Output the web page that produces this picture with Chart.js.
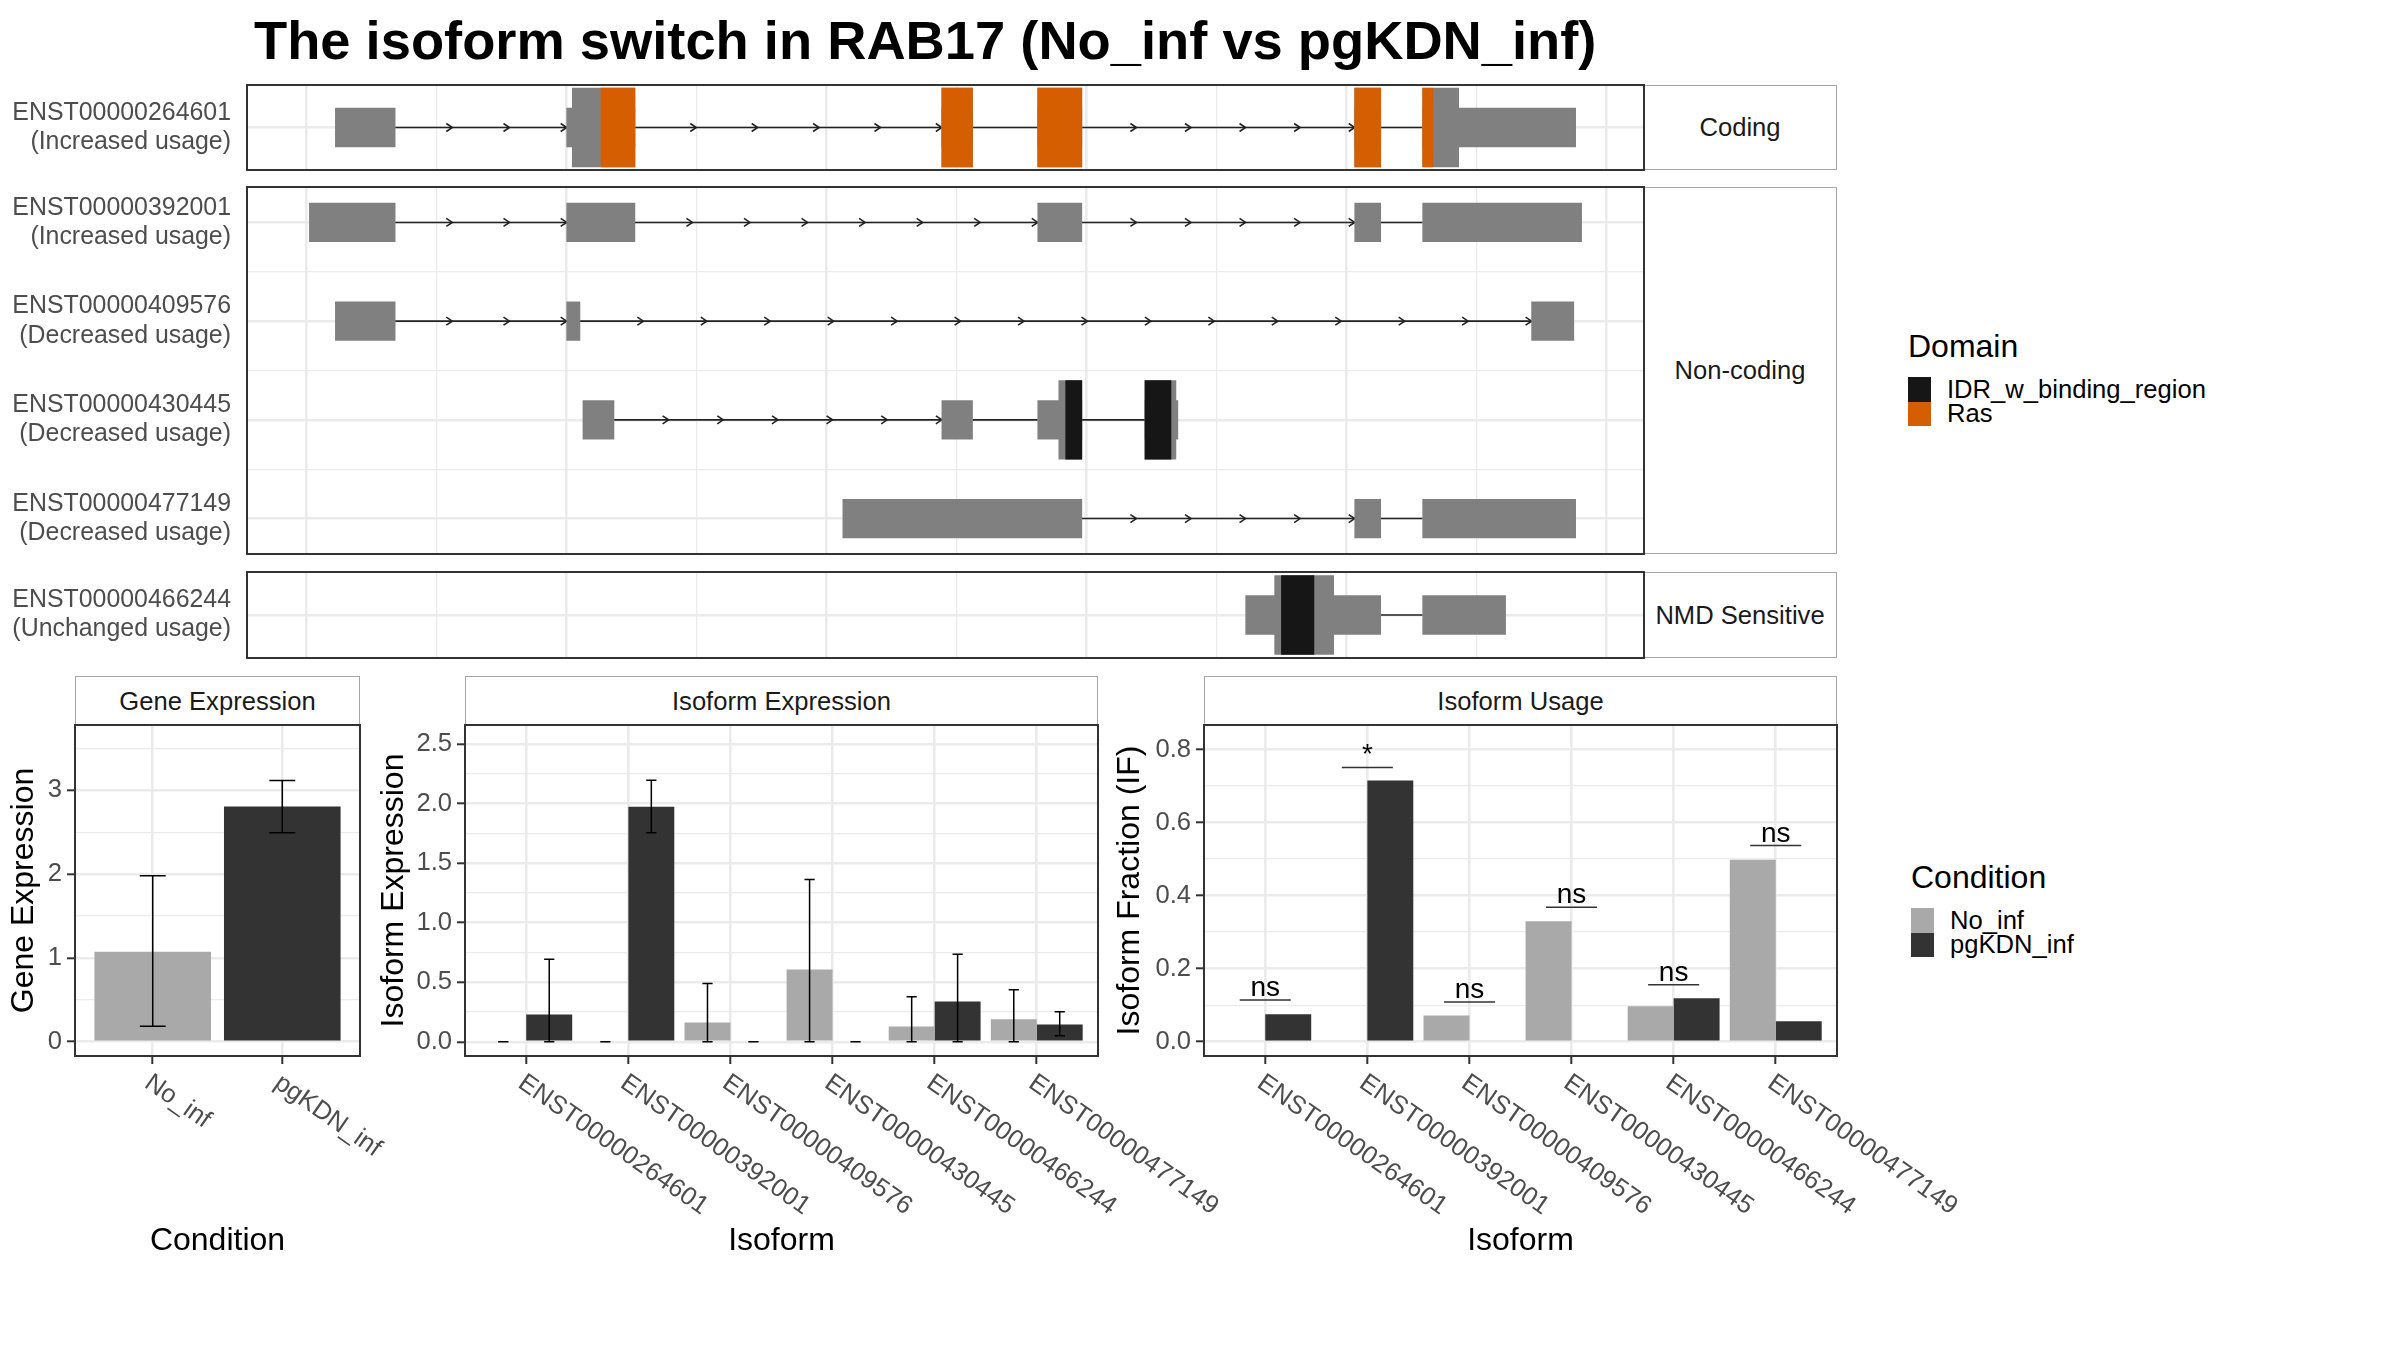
<!DOCTYPE html>
<html>
<head>
<meta charset="utf-8">
<title>The isoform switch in RAB17</title>
<script src="https://cdn.jsdelivr.net/npm/chart.js@4.4.1/dist/chart.umd.min.js"></script>
<style>
  html, body { margin: 0; padding: 0; background: #fff; }
  #page { position: relative; width: 2400px; height: 1350px; overflow: hidden; background: #fff;
          font-family: 'Liberation Sans', Arial, Helvetica, sans-serif; }
  #page canvas { position: absolute; }
  .title { position: absolute; left: 254px; top: 14px; font-size: 54.3px; font-weight: bold; line-height: 54px;
           color: #000; white-space: nowrap; }
  .strip { position: absolute; box-sizing: border-box; border: 1.5px solid #a6a6a6; background: #fff;
           display: flex; align-items: center; justify-content: center; font-size: 25.6px; color: #1a1a1a; }
  .legend { position: absolute; }
  .legend .head { font-size: 32px; line-height: 38px; color: #000; margin-bottom: 12px; }
  .key { display: flex; align-items: center; height: 24.5px; font-size: 25.6px; color: #000; white-space: nowrap; }
  .key span { display: inline-block; width: 23px; height: 24.5px; margin-right: 16px; }
</style>
</head>
<body>
<div id="page">
  <div class="title">The isoform switch in RAB17 (No_inf vs pgKDN_inf)</div>

  <div class="strip" style="left:1644px;top:85px;width:193px;height:85px;border-left:none">Coding</div>
  <div class="strip" style="left:1644px;top:187px;width:193px;height:367px;border-left:none">Non-coding</div>
  <div class="strip" style="left:1644px;top:572px;width:193px;height:86px;border-left:none">NMD Sensitive</div>

  <div class="strip" style="left:75px;top:676px;width:285px;height:50px;border-bottom:none">Gene Expression</div>
  <div class="strip" style="left:465px;top:676px;width:633px;height:50px;border-bottom:none">Isoform Expression</div>
  <div class="strip" style="left:1204px;top:676px;width:633px;height:50px;border-bottom:none">Isoform Usage</div>

  <div class="legend" style="left:1908px;top:327px">
    <div class="head">Domain</div>
    <div class="key"><span style="background:#161616"></span>IDR_w_binding_region</div>
    <div class="key"><span style="background:#d55e00"></span>Ras</div>
  </div>
  <div class="legend" style="left:1911px;top:858px">
    <div class="head">Condition</div>
    <div class="key"><span style="background:#a9a9a9"></span>No_inf</div>
    <div class="key"><span style="background:#333333"></span>pgKDN_inf</div>
  </div>
</div>

<script>
// ---- data ----
const conditions = ['No_inf', 'pgKDN_inf'];
const isoforms = ['ENST00000264601', 'ENST00000392001', 'ENST00000409576',
                  'ENST00000430445', 'ENST00000466244', 'ENST00000477149'];

const geneExpr = [1.075, 2.807];
const geneExprLow = [0.184, 2.495];
const geneExprHigh = [1.98, 3.118];

const isoExprNoInf = [0, 0, 0.162, 0.607, 0.129, 0.189];
const isoExprNoInfLow = [0, 0, 0, 0, 0, 0];
const isoExprNoInfHigh = [0, 0, 0.49, 1.363, 0.378, 0.438];
const isoExprPgKDN = [0.229, 1.973, 0, 0, 0.338, 0.146];
const isoExprPgKDNLow = [0, 1.754, 0, 0, 0, 0.05];
const isoExprPgKDNHigh = [0.693, 2.195, 0, 0, 0.736, 0.252];

const usageNoInf = [0, 0, 0.072, 0.33, 0.097, 0.498];
const usagePgKDN = [0.075, 0.715, 0, 0, 0.119, 0.056];
const usageSig = ['ns', '*', 'ns', 'ns', 'ns', 'ns'];
const usageSigY = [0.114, 0.751, 0.109, 0.368, 0.156, 0.537];

// tick labels
const geneTicks = [0, 1, 2, 3];
const geneTickLabels = ['0', '1', '2', '3'];
const geneMinorTicks = [0.5, 1.5, 2.5, 3.5];
const isoExprTicks = [0, 0.5, 1, 1.5, 2, 2.5];
const isoExprTickLabels = ['0.0', '0.5', '1.0', '1.5', '2.0', '2.5'];
const isoExprMinorTicks = [0.25, 0.75, 1.25, 1.75, 2.25];
const usageTicks = [0, 0.2, 0.4, 0.6, 0.8];
const usageTickLabels = ['0.0', '0.2', '0.4', '0.6', '0.8'];
const usageMinorTicks = [0.1, 0.3, 0.5, 0.7];

// transcript structures (genomic axis in plot units, gridlines every 100)
const txIds = ['ENST00000264601', 'ENST00000392001', 'ENST00000409576',
               'ENST00000430445', 'ENST00000477149', 'ENST00000466244'];
const txChange = ['Increased usage', 'Increased usage', 'Decreased usage',
                  'Decreased usage', 'Decreased usage', 'Unchanged usage'];
const txClass = ['Coding', 'Non-coding', 'Non-coding', 'Non-coding', 'Non-coding', 'NMD Sensitive'];
const txExons = [
  [[22, 68], [200, 252.5], [488.7, 512.3], [562.5, 596.4], [806.4, 826.4], [858.7, 976.4]],
  [[2, 68], [200, 252.5], [562.5, 596.4], [806.4, 826.4], [858.7, 981]],
  [[22, 68], [200, 210.2], [942.5, 975]],
  [[212.5, 236.4], [488.7, 512.3], [562.5, 596.4], [645, 670.3]],
  [[412.5, 596.4], [806.4, 826.4], [858.7, 976.4]],
  [[722.5, 826.4], [858.7, 922.5]]
];
const txCds = [
  [[204.3, 252.5], [488.7, 512.3], [562.5, 596.4], [806.4, 826.4], [858.7, 886.4]],
  [], [],
  [[578.7, 596.4], [645, 668.8]],
  [],
  [[744.8, 790.2]]
];
const txRas = [
  [[226.4, 252.5], [488.7, 512.3], [562.5, 596.4], [806.4, 826.4], [858.7, 866.7]],
  [], [], [], [], []
];
const txIdr = [
  [], [], [],
  [[584, 596.4], [645, 665]],
  [],
  [[750, 775]]
];
const txGrid = [0, 100, 200, 300, 400, 500, 600, 700, 800, 900, 1000];

// ---- styles ----
const GREY = '#808080', RAS = '#d55e00', IDR = '#161616';
const NOINF = '#a9a9a9', PGKDN = '#333333';
const TICK_GREY = '#4d4d4d', GRID = '#ebebeb';
const FONT = "'Liberation Sans', Arial, Helvetica, sans-serif";

Chart.defaults.font.family = FONT;
Chart.defaults.animation = false;
Chart.defaults.plugins.legend.display = false;
Chart.defaults.plugins.tooltip.enabled = false;

const page = document.getElementById('page');

function addCanvas(left, top, width, height) {
  const c = document.createElement('canvas');
  c.width = Math.round(width);
  c.height = Math.round(height);
  c.style.left = Math.round(left) + 'px';
  c.style.top = Math.round(top) + 'px';
  page.appendChild(c);
  return c;
}

// box round the plotting area (ggplot panel border)
const panelBox = {
  id: 'panelBox',
  afterDraw(chart) {
    const { ctx, chartArea: a } = chart;
    ctx.save();
    ctx.strokeStyle = '#333333';
    ctx.lineWidth = 2;
    ctx.strokeRect(a.left, a.top, a.right - a.left, a.bottom - a.top);
    ctx.restore();
  }
};

// intron lines with direction arrows
const intronPlugin = {
  id: 'introns',
  beforeDatasetsDraw(chart, args, opts) {
    const { ctx, scales: { x, y } } = chart;
    ctx.save();
    ctx.strokeStyle = '#222222';
    ctx.lineWidth = 1.6;
    opts.rows.forEach((exons, r) => {
      const py = y.getPixelForValue(r);
      for (let k = 0; k < exons.length - 1; k++) {
        const a = exons[k][1], b = exons[k + 1][0];
        ctx.beginPath();
        ctx.moveTo(x.getPixelForValue(a), py);
        ctx.lineTo(x.getPixelForValue(b), py);
        ctx.stroke();
        const len = b - a;
        const n = len < 60 ? 0 : Math.ceil(len / 50);
        for (let j = 1; j <= n; j++) {
          const px = x.getPixelForValue(a + len * j / n);
          ctx.beginPath();
          ctx.moveTo(px - 6, py - 4);
          ctx.lineTo(px, py);
          ctx.lineTo(px - 6, py + 4);
          ctx.stroke();
        }
      }
    });
    ctx.restore();
  }
};

const errorBarPlugin = {
  id: 'errorBars',
  afterDatasetsDraw(chart, args, opts) {
    if (!opts.low) return;
    const { ctx, scales: { x, y } } = chart;
    const cap = x.getPixelForValue(1 + opts.cap) - x.getPixelForValue(1);
    ctx.save();
    ctx.strokeStyle = '#000';
    ctx.lineWidth = 1.5;
    opts.low.forEach((lows, d) => {
      const meta = chart.getDatasetMeta(d);
      lows.forEach((lo, i) => {
        const px = meta.data[i].x;
        const y1 = y.getPixelForValue(lo), y2 = y.getPixelForValue(opts.high[d][i]);
        ctx.beginPath();
        ctx.moveTo(px, y1); ctx.lineTo(px, y2);
        ctx.moveTo(px - cap, y1); ctx.lineTo(px + cap, y1);
        ctx.moveTo(px - cap, y2); ctx.lineTo(px + cap, y2);
        ctx.stroke();
      });
    });
    ctx.restore();
  }
};

const sigPlugin = {
  id: 'sigMarks',
  afterDatasetsDraw(chart, args, opts) {
    if (!opts.labels) return;
    const { ctx, scales: { x, y } } = chart;
    ctx.save();
    ctx.strokeStyle = '#333';
    ctx.lineWidth = 1.5;
    ctx.fillStyle = '#000';
    ctx.font = '28px ' + FONT;
    ctx.textAlign = 'center';
    ctx.textBaseline = 'alphabetic';
    opts.labels.forEach((t, i) => {
      const py = y.getPixelForValue(opts.y[i]);
      const x0 = x.getPixelForValue(i + 1 - 0.25), x1 = x.getPixelForValue(i + 1 + 0.25);
      ctx.beginPath();
      ctx.moveTo(x0, py); ctx.lineTo(x1, py);
      ctx.stroke();
      ctx.fillText(t, (x0 + x1) / 2, py - 4);
    });
    ctx.restore();
  }
};

// rotated category labels hanging from the ticks
const xLabelPlugin = {
  id: 'xLabels',
  afterDraw(chart, args, opts) {
    const { ctx, chartArea, scales: { x } } = chart;
    ctx.save();
    ctx.font = '25.6px ' + FONT;
    ctx.fillStyle = TICK_GREY;
    ctx.textAlign = 'left';
    ctx.textBaseline = 'top';
    opts.labels.forEach((t, i) => {
      ctx.save();
      ctx.translate(x.getPixelForValue(i + 1) + 2, chartArea.bottom + 14);
      ctx.rotate(35 * Math.PI / 180);
      ctx.fillText(t, 0, 0);
      ctx.restore();
    });
    ctx.restore();
  }
};

// ---- transcript panels ----
const TX_LEFT = 247, TX_RIGHT = 1644, ROW_STEP = 98.7;

function drawTranscripts(cls, top, bottom) {
  const rows = txIds.map((_, i) => i).filter(i => txClass[i] === cls);
  const pad = ((bottom - top) / ROW_STEP - (rows.length - 1)) / 2;
  const M = 60;
  const canvas = addCanvas(0, top - M, TX_RIGHT + 10, bottom - top + 2 * M);
  const segs = src => rows.flatMap((t, r) => src[t].map(s => ({ x: s, y: r })));
  const layer = (label, src, color, thick, order) => ({
    label, data: segs(src), backgroundColor: color, barThickness: thick,
    stack: 'tx', order, borderWidth: 0
  });
  const yTicks = [];
  for (let v = 0; v <= rows.length - 1; v += 0.5) yTicks.push(v);

  new Chart(canvas, {
    type: 'bar',
    data: {
      datasets: [
        layer('exon', txExons, GREY, 38.6, 4),
        layer('cds', txCds, GREY, 78.6, 3),
        layer('Ras', txRas, RAS, 78.6, 2),
        layer('IDR_w_binding_region', txIdr, IDR, 78.6, 1)
      ]
    },
    options: {
      indexAxis: 'y',
      responsive: false,
      layout: { padding: { top: M, bottom: M, right: 10, left: 0 } },
      plugins: { introns: { rows: rows.map(t => txExons[t]) } },
      scales: {
        x: {
          type: 'linear', min: -46, max: 1029, stacked: false, offset: false,
          afterBuildTicks: s => { s.ticks = txGrid.map(v => ({ value: v })); },
          afterFit: s => { s.height = 0; },
          ticks: { display: false },
          grid: { offset: false, color: GRID, drawTicks: false,
                  lineWidth: c => (c.tick && c.tick.value % 200 === 0 ? 2.6 : 1.3) },
          border: { display: false }
        },
        y: {
          type: 'linear', reverse: true, min: -pad, max: rows.length - 1 + pad, offset: false,
          afterBuildTicks: s => { s.ticks = yTicks.map(v => ({ value: v })); },
          afterFit: s => { s.width = TX_LEFT; },
          ticks: {
            autoSkip: false, padding: 16, color: TICK_GREY,
            font: { size: 24.9, lineHeight: 1.17 },
            callback: v => Number.isInteger(v) ? [txIds[rows[v]], '(' + txChange[rows[v]] + ')'] : ''
          },
          grid: { offset: false, color: GRID, drawTicks: false,
                  lineWidth: c => (c.tick && Number.isInteger(c.tick.value) ? 2.6 : 1.3) },
          border: { display: false }
        }
      }
    },
    plugins: [intronPlugin, panelBox]
  });
}

drawTranscripts('Coding', 85, 170);
drawTranscripts('Non-coding', 187, 554);
drawTranscripts('NMD Sensitive', 572, 658);

// ---- bar panels ----
const PLOT_TOP = 725, PLOT_BOTTOM = 1056, CANVAS_BOTTOM = 1260;

function drawBars(cfg) {
  const MT = 40, MR = 150;
  const cl = Math.round(cfg.yTitleX - 19.2);
  const canvas = addCanvas(cl, PLOT_TOP - MT, cfg.right + MR - cl, CANVAS_BOTTOM - PLOT_TOP + MT);
  const allTicks = cfg.major.concat(cfg.minor).sort((a, b) => a - b);
  const majorIndex = v => cfg.major.findIndex(m => Math.abs(m - v) < 1e-9);

  new Chart(canvas, {
    type: 'bar',
    data: {
      datasets: cfg.series.map(s => ({
        label: s.label,
        data: s.values.map((v, i) => ({ x: i + 1, y: v })),
        backgroundColor: s.color,
        borderWidth: 0,
        categoryPercentage: 0.9,
        barPercentage: 1
      }))
    },
    options: {
      responsive: false,
      layout: { padding: { top: MT, right: MR, left: 0, bottom: 0 } },
      plugins: {
        errorBars: cfg.errors || {},
        sigMarks: cfg.sig || {},
        xLabels: { labels: cfg.labels }
      },
      scales: {
        x: {
          type: 'linear', min: 0.4, max: cfg.labels.length + 0.6, offset: false,
          afterBuildTicks: s => { s.ticks = cfg.labels.map((_, i) => ({ value: i + 1 })); },
          afterFit: s => { s.height = CANVAS_BOTTOM - PLOT_BOTTOM; },
          ticks: { display: false },
          grid: { offset: false, color: GRID, lineWidth: 2.6, tickLength: 8, tickColor: '#333', tickWidth: 2 },
          border: { display: false },
          title: { display: true, text: cfg.xTitle, color: '#000', font: { size: 32, lineHeight: 1.2 }, padding: 0 }
        },
        y: {
          type: 'linear', min: cfg.yMin, max: cfg.yMax,
          afterBuildTicks: s => { s.ticks = allTicks.map(v => ({ value: v })); },
          afterFit: s => { s.width = cfg.left - cl; },
          ticks: {
            autoSkip: false, padding: 5, color: TICK_GREY, font: { size: 25.6 },
            callback: v => { const k = majorIndex(v); return k >= 0 ? cfg.majorLabels[k] : ''; }
          },
          grid: {
            color: GRID, tickLength: 8, tickWidth: 2,
            lineWidth: c => (c.tick && majorIndex(c.tick.value) >= 0 ? 2.6 : 1.3),
            tickColor: c => (c.tick && majorIndex(c.tick.value) >= 0 ? '#333' : 'rgba(0,0,0,0)')
          },
          border: { display: false },
          title: { display: true, text: cfg.yTitle, color: '#000', font: { size: 32, lineHeight: 1.2 }, padding: 0 }
        }
      }
    },
    plugins: [errorBarPlugin, sigPlugin, xLabelPlugin, panelBox]
  });
}

drawBars({
  left: 75, right: 360, yTitleX: 24,
  yMin: -0.17, yMax: 3.78,
  major: geneTicks, majorLabels: geneTickLabels, minor: geneMinorTicks,
  labels: conditions, xTitle: 'Condition', yTitle: 'Gene Expression',
  series: [{ label: 'Gene', values: geneExpr, color: [NOINF, PGKDN] }],
  errors: { low: [geneExprLow], high: [geneExprHigh], cap: 0.1 }
});

drawBars({
  left: 465, right: 1098, yTitleX: 394,
  yMin: -0.119, yMax: 2.659,
  major: isoExprTicks, majorLabels: isoExprTickLabels, minor: isoExprMinorTicks,
  labels: isoforms, xTitle: 'Isoform', yTitle: 'Isoform Expression',
  series: [
    { label: conditions[0], values: isoExprNoInf, color: NOINF },
    { label: conditions[1], values: isoExprPgKDN, color: PGKDN }
  ],
  errors: {
    low: [isoExprNoInfLow, isoExprPgKDNLow],
    high: [isoExprNoInfHigh, isoExprPgKDNHigh],
    cap: 0.05
  }
});

drawBars({
  left: 1204, right: 1837, yTitleX: 1130,
  yMin: -0.039, yMax: 0.867,
  major: usageTicks, majorLabels: usageTickLabels, minor: usageMinorTicks,
  labels: isoforms, xTitle: 'Isoform', yTitle: 'Isoform Fraction (IF)',
  series: [
    { label: conditions[0], values: usageNoInf, color: NOINF },
    { label: conditions[1], values: usagePgKDN, color: PGKDN }
  ],
  sig: { labels: usageSig, y: usageSigY }
});
</script>
</body>
</html>
